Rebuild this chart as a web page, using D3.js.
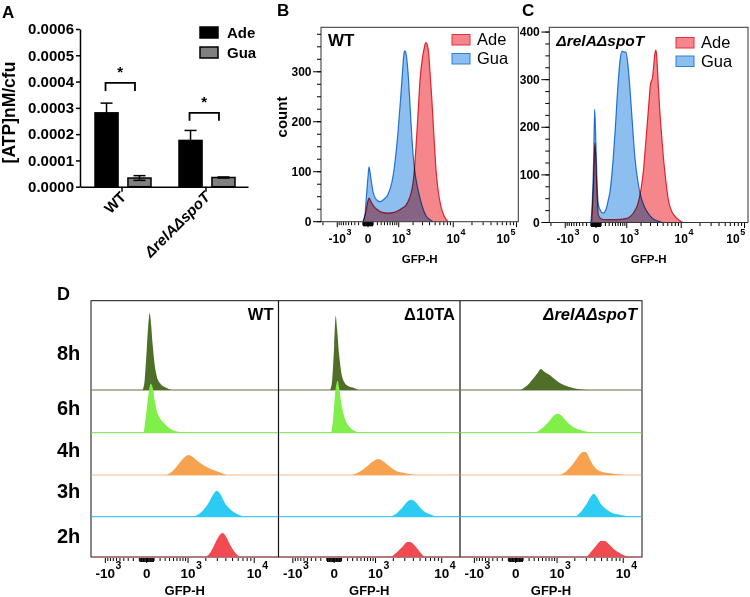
<!DOCTYPE html>
<html>
<head>
<meta charset="utf-8">
<script src="https://cdn.jsdelivr.net/npm/d3@7/dist/d3.min.js"></script>
<style>
html,body{margin:0;padding:0;background:#fff;}
svg text{font-family:"Liberation Sans",Arial,Helvetica,sans-serif;}
</style>
</head>
<body>
<svg id="fig" width="750" height="597"></svg>
<script>
// ======================= DATA =======================
// Panel A : ATP per cfu
const atpStrains = ["WT", "ΔrelAΔspoT"];
const atpGroups = ["Ade", "Gua"];
const atpAdeMean = [0.000281, 0.000176];
const atpAdeSD = [0.000037, 0.000038];
const atpGuaMean = [0.000033, 0.000035];
const atpGuaSD = [0.000009, 0.000002];
const atpSigLevel = [0.000395, 0.000281];
const atpSigLabel = ["*", "*"];
const atpTicks = [0, 0.0001, 0.0002, 0.0003, 0.0004, 0.0005, 0.0006];

// Panels B, C : GFP-H histograms, [GFP-H, count]
const flowTickValues = [-1000, 0, 1000, 10000, 100000];
const flowTickBase = ["-10", "0", "10", "10", "10"];
const flowTickExp = ["3", "", "3", "4", "5"];
const bCountTicks = [0, 100, 200, 300];
const cCountTicks = [0, 100, 200, 300, 400];

const bGua = [[-104,0],[-57,15],[-37,40],[0,90],[18,110],[57,85],[98,60],[165,45],[268,40],[385,45],[521,55],[678,80],[811,120],[960,180],[1125,258],[1215,300],[1280,328],[1341,342],[1408,340],[1480,330],[1586,300],[1741,235],[1907,165],[2085,115],[2276,85],[2590,55],[2940,32],[3468,12],[4077,4],[4595,0]];
const bAde = [[-91,0],[-37,20],[0,42],[18,47],[57,40],[120,30],[215,23],[354,18],[521,17],[721,18],[960,22],[1184,27],[1443,33],[1662,45],[1907,65],[2085,95],[2276,150],[2482,215],[2702,283],[3065,335],[3258,350],[3398,358],[3540,358],[3690,352],[3839,340],[4077,300],[4416,240],[4780,170],[5171,105],[5591,65],[6280,30],[7046,12],[8205,0]];
const cGua = [[-104,0],[-83,20],[-47,120],[-24,238],[0,160],[28,60],[57,32],[142,20],[215,28],[268,45],[324,65],[418,130],[485,188],[597,290],[678,340],[765,360],[859,358],[960,358],[1068,330],[1184,280],[1309,220],[1513,135],[1741,85],[1907,62],[2276,35],[2702,20],[3329,8],[4077,3],[4975,0]];
const cAde = [[-83,0],[-47,80],[-18,167],[9,90],[43,16],[98,8],[215,6],[521,6],[960,8],[1245,14],[1443,22],[1741,40],[1994,70],[2227,110],[2482,175],[2737,235],[3002,290],[3261,305],[3398,325],[3540,348],[3717,362],[3839,355],[3995,322],[4244,262],[4595,200],[5031,139],[5591,85],[6113,48],[7046,22],[7900,13],[9190,5],[10680,0]];

// Panel D : staggered GFP-H histograms over time, [GFP-H, count]
const dTickValues = [-1000, 0, 1000, 10000];
const dTickBase = ["-10", "0", "10", "10"];
const dTickExp = ["3", "", "3", "4"];
const dTimes = ["8h", "6h", "4h", "3h", "2h"];
const dStrains = ["WT", "Δ10TA", "ΔrelAΔspoT"];

const dWT8h = [[-52,0],[-25,10],[0,40],[25,70],[38,77],[52,70],[80,45],[110,25],[142,14],[211,6],[290,3],[379,1],[453,0]];
const dWT6h = [[-38,0],[-12,15],[25,40],[52,49],[80,45],[110,32],[142,22],[193,15],[270,10],[379,5],[534,2],[865,0]];
const dWT4h = [[333,0],[480,4],[655,11],[827,17],[1028,20],[1212,18],[1534,13],[1920,9],[2382,6],[3145,3],[4116,0]];
const dWT3h = [[1262,0],[1718,5],[2218,14],[2647,23],[2936,26],[3367,22],[3852,14],[4700,7],[5716,3],[7395,0]];
const dWT2h = [[1991,0],[2382,5],[2837,15],[3254,22],[3600,24],[3983,21],[4548,13],[5356,5],[6300,0]];

const dTA8h = [[-52,0],[-25,10],[0,45],[19,74],[38,60],[65,35],[95,18],[142,8],[211,4],[333,2],[428,0]];
const dTA6h = [[-38,0],[-12,15],[12,40],[45,52],[65,45],[95,30],[125,20],[175,11],[250,5],[333,2],[428,0]];
const dTA4h = [[290,0],[453,3],[655,8],[865,13],[1117,16],[1420,13],[1783,8],[2218,4],[2936,2],[4116,0]];
const dTA3h = [[1783,0],[2218,3],[2740,9],[3254,15],[3725,17],[4257,15],[5020,9],[6100,4],[7163,2],[8396,0]];
const dTA2h = [[1850,0],[2299,5],[2837,11],[3254,15],[3600,15],[4116,12],[4856,6],[5716,0]];

const dRS8h = [[65,0],[175,5],[290,12],[379,17],[453,21],[563,18],[721,15],[944,10],[1212,6],[1655,3],[2218,1],[3367,0]];
const dRS6h = [[333,0],[507,5],[687,11],[865,17],[1028,19],[1212,17],[1476,11],[1850,6],[2382,3],[3145,1],[3983,0]];
const dRS4h = [[1164,0],[1534,5],[1920,12],[2299,19],[2647,23],[2936,23],[3367,16],[3852,9],[4700,4],[6100,2],[7880,1],[10476,0]];
const dRS3h = [[2064,0],[2556,6],[3039,13],[3484,20],[3852,23],[4257,20],[4856,13],[5716,8],[6936,4],[8948,2],[12648,0]];
const dRS2h = [[3039,0],[3600,6],[4257,12],[4856,16],[5535,16],[6300,13],[7395,8],[8948,4],[10808,1],[12256,0]];

// ======================= STYLE / LAYOUT =======================
const ADE_FILL = "#f5878c", ADE_STROKE = "#e3303c";
const GUA_FILL = "#8cbef0", GUA_STROKE = "#2f80d8";
const dFill = ["#4f6f28", "#80ef4a", "#f7a24f", "#2ccbf3", "#f04b50"];
const dLine = ["#5d7340", "#8fe46e", "#f3b888", "#4cc6ee", "#ee6a6e"];

const svg = d3.select("#fig");
let clipCount = 0;

function txt(g, x, y, s, size, opts = {}) {
  return g.append("text").attr("x", x).attr("y", y)
    .attr("font-size", size)
    .attr("font-weight", opts.weight || "bold")
    .attr("font-style", opts.italic ? "italic" : null)
    .attr("text-anchor", opts.anchor || "start")
    .attr("fill", "#000")
    .text(s);
}

function logLabel(g, x, yBase, base, exp, fs, efs, raise) {
  const t = txt(g, x, yBase, base, fs, { anchor: "middle" });
  if (exp) {
    const w = t.node().getComputedTextLength();
    txt(g, x + w / 2 + 0.5, yBase - raise, exp, efs);
  }
}

function symlogScale(constant, zeroPx, k, lo, hi) {
  const t = v => Math.sign(v) * Math.log1p(Math.abs(v) / constant);
  return d3.scaleSymlog().constant(constant).domain([lo, hi])
    .range([zeroPx + k * t(lo), zeroPx + k * t(hi)]);
}

function xTicks(g, x, y0, left, right, majors, minors, fine, majLen, minLen) {
  const inside = v => { const p = x(v); return p >= left - 0.5 && p <= right + 0.5; };
  const draw = (vals, len) => g.selectAll(null).data(vals.filter(inside)).enter().append("line")
    .attr("x1", d => x(d)).attr("x2", d => x(d))
    .attr("y1", y0).attr("y2", y0 + len)
    .attr("stroke", "#000").attr("stroke-width", 1);
  draw(minors, minLen);
  draw(fine, majLen - 1);
  draw(majors, majLen);
}

// ======================= PANEL A =======================
(function () {
  const g = svg.append("g");
  txt(g, 2, 18, "A", 17);
  const yA = d3.scaleLinear().domain([0, 0.0006]).range([186.7, 29]);
  const xA = d3.scaleBand().domain(atpStrains).range([80, 248]);
  const xSub = d3.scaleBand().domain(atpGroups).range([-27, 29]).paddingInner(0.3);
  const means = [atpAdeMean, atpGuaMean], sds = [atpAdeSD, atpGuaSD];
  const fills = ["#000000", "#808080"];

  atpStrains.forEach((s, i) => {
    const cx = xA(s) + xA.bandwidth() / 2;
    const centers = [];
    atpGroups.forEach((grp, j) => {
      const x0 = cx + xSub(grp), bw = xSub.bandwidth();
      const m = means[j][i], sd = sds[j][i];
      g.append("rect").attr("x", x0).attr("y", yA(m)).attr("width", bw)
        .attr("height", yA(0) - yA(m)).attr("fill", fills[j])
        .attr("stroke", "#000").attr("stroke-width", 1.5);
      const bx = x0 + bw / 2; centers.push(bx);
      const eb = g.append("g").attr("stroke", "#000").attr("stroke-width", 1.5);
      eb.append("line").attr("x1", bx).attr("x2", bx).attr("y1", yA(m - sd)).attr("y2", yA(m + sd));
      eb.append("line").attr("x1", bx - 6).attr("x2", bx + 6).attr("y1", yA(m + sd)).attr("y2", yA(m + sd));
      eb.append("line").attr("x1", bx - 6).attr("x2", bx + 6).attr("y1", yA(m - sd)).attr("y2", yA(m - sd));
    });
    const yb = yA(atpSigLevel[i]);
    const x1 = centers[0] - 1, x2 = centers[1] - 4.5;
    g.append("path").attr("d", `M${x1},${yb + 8}V${yb}H${x2}V${yb + 8}`)
      .attr("fill", "none").attr("stroke", "#000").attr("stroke-width", 1.8);
    txt(g, (x1 + x2) / 2, yb - 6, atpSigLabel[i], 15, { anchor: "middle" });
  });

  const yAxis = d3.axisLeft(yA).tickValues(atpTicks).tickFormat(d3.format(".4f"))
    .tickSize(4).tickSizeOuter(0).tickPadding(2);
  g.append("g").attr("transform", "translate(80,0)").call(yAxis)
    .call(a => {
      a.selectAll("text").attr("font-size", 15).attr("font-weight", "bold").attr("fill", "#000");
      a.selectAll("line,path").attr("stroke", "#000").attr("stroke-width", 1.5);
    });
  const xAxis = d3.axisBottom(xA).tickSize(5).tickSizeOuter(0).tickFormat("");
  g.append("g").attr("transform", "translate(0,186.7)").call(xAxis)
    .call(a => a.selectAll("line,path").attr("stroke", "#000").attr("stroke-width", 1.5));

  atpStrains.forEach((s, i) => {
    const cx = xA(s) + xA.bandwidth() / 2;
    txt(g, 0, 0, s, 15, { anchor: "end", italic: i === 1 })
      .attr("transform", `translate(${cx + 5},${198}) rotate(-45)`);
  });

  g.append("text").attr("transform", "translate(15,112.5) rotate(-90)")
    .attr("text-anchor", "middle").attr("font-size", 17.5).attr("font-weight", "bold").text("[ATP]nM/cfu");

  atpGroups.forEach((grp, j) => {
    g.append("rect").attr("x", 200).attr("y", 27 + j * 20).attr("width", 18).attr("height", 11)
      .attr("fill", fills[j]).attr("stroke", "#000").attr("stroke-width", 1.5);
    txt(g, 227, 38 + j * 20, grp, 15);
  });
})();

// ======================= PANELS B, C =======================
function flowPanel(cfg) {
  const g = svg.append("g");
  txt(g, cfg.letterX, 16, cfg.letter, 17);
  const x = symlogScale(500, cfg.zero, 28, -1000, 100000);
  const y = d3.scaleLinear().domain([0, cfg.yMax]).range([cfg.bottom, cfg.top]);
  const id = "clip" + (clipCount++);
  g.append("clipPath").attr("id", id).append("rect")
    .attr("x", cfg.left).attr("y", cfg.top).attr("width", cfg.right - cfg.left).attr("height", cfg.bottom - cfg.top);
  const plot = g.append("g").attr("clip-path", `url(#${id})`).style("isolation", "isolate");
  const area = d3.area().x(d => x(d[0])).y0(y(0)).y1(d => y(d[1])).curve(d3.curveMonotoneX);
  const line = d3.line().x(d => x(d[0])).y(d => y(d[1])).curve(d3.curveMonotoneX);
  [[cfg.gua, GUA_FILL, GUA_STROKE], [cfg.ade, ADE_FILL, ADE_STROKE]].forEach(([dat, f, s]) => {
    plot.append("path").datum(dat).attr("d", area).attr("fill", f).style("mix-blend-mode", "multiply");
    plot.append("path").datum(dat).attr("d", line).attr("fill", "none").attr("stroke", s)
      .attr("stroke-width", 1.2).style("mix-blend-mode", "multiply");
  });
  g.append("rect").attr("x", cfg.left).attr("y", cfg.top).attr("width", cfg.right - cfg.left)
    .attr("height", cfg.bottom - cfg.top).attr("fill", "none").attr("stroke", "#333").attr("stroke-width", 1);

  const yMinor = d3.range(0, cfg.yMax, 25);
  g.selectAll(null).data(yMinor).enter().append("line")
    .attr("x1", cfg.left).attr("x2", cfg.left - 4)
    .attr("y1", d => y(d)).attr("y2", d => y(d)).attr("stroke", "#000");
  cfg.yTicks.forEach(v => {
    g.append("line").attr("x1", cfg.left).attr("x2", cfg.left - 8).attr("y1", y(v)).attr("y2", y(v)).attr("stroke", "#000");
    txt(g, cfg.left - 9.5, y(v) + 4, String(v), 12, { anchor: "end" });
  });
  const minors = [-2000, ...d3.range(-900, 0, 100), ...d3.range(100, 1000, 100),
    ...d3.range(2000, 10000, 1000), ...d3.range(20000, 100000, 10000)];
  const fine = d3.range(-90, 100, 10);
  xTicks(g, x, cfg.bottom + 0.5, cfg.left, cfg.right, flowTickValues, minors, fine, 5, 3);
  flowTickValues.forEach((v, i) => {
    const cx = Math.min(x(v), cfg.right - 15);
    logLabel(g, cx, 243, flowTickBase[i], flowTickExp[i], 12, 9, 8);
  });
  txt(g, (cfg.left + cfg.right) / 2, 263, "GFP-H", 11.5, { anchor: "middle" });
  if (cfg.yLabel) {
    g.append("text").attr("transform", `translate(${cfg.left - 34},117) rotate(-90)`)
      .attr("text-anchor", "middle").attr("font-size", 15).attr("font-weight", "bold").text(cfg.yLabel);
  }
  txt(g, cfg.left + 7, 46, cfg.title, cfg.titleSize, { italic: cfg.titleItalic });
  [["Ade", ADE_FILL, ADE_STROKE], ["Gua", GUA_FILL, GUA_STROKE]].forEach(([n, f, s], j) => {
    g.append("rect").attr("x", cfg.legX).attr("y", cfg.legY + j * cfg.legStep).attr("width", 18).attr("height", 10.5)
      .attr("fill", f).attr("stroke", s).attr("stroke-width", 1);
    txt(g, cfg.legX + 25, cfg.legY + 10.5 + j * cfg.legStep, n, 16.5, { weight: "normal" });
  });
}

flowPanel({ letter: "B", letterX: 277, left: 321, right: 518.3, top: 27.3, bottom: 221.7, zero: 368,
  yMax: 389, yTicks: bCountTicks, yLabel: "count", title: "WT", titleSize: 17, titleItalic: false,
  gua: bGua, ade: bAde, legX: 452, legY: 34.5, legStep: 19 });
flowPanel({ letter: "C", letterX: 522, left: 549.3, right: 748, top: 27.3, bottom: 222.5, zero: 596,
  yMax: 410, yTicks: cCountTicks, yLabel: null, title: "ΔrelAΔspoT", titleSize: 15.5, titleItalic: true,
  gua: cGua, ade: cAde, legX: 676, legY: 37.5, legStep: 18.5 });

// ======================= PANEL D =======================
(function () {
  const g = svg.append("g");
  txt(g, 57, 300, "D", 18);
  const lefts = [91, 278.5, 460], rights = [278.5, 460, 642];
  const top = 300.7, bottom = 557;
  const rowBase = [390, 432.7, 475, 516.7, 557];
  const rowLabelY = [360, 415, 457, 498, 543];
  const curves = [[dWT8h, dWT6h, dWT4h, dWT3h, dWT2h],
                  [dTA8h, dTA6h, dTA4h, dTA3h, dTA2h],
                  [dRS8h, dRS6h, dRS4h, dRS3h, dRS2h]];

  g.append("rect").attr("x", 91).attr("y", top).attr("width", 642 - 91).attr("height", bottom - top)
    .attr("fill", "none").attr("stroke", "#111").attr("stroke-width", 1);
  [278.5, 460].forEach(xx => g.append("line").attr("x1", xx).attr("x2", xx).attr("y1", top).attr("y2", bottom)
    .attr("stroke", "#111").attr("stroke-width", 1.2));

  dTimes.forEach((t, r) => txt(g, 57, rowLabelY[r], t, 20));

  dStrains.forEach((s, p) => {
    const L = lefts[p], R = rights[p];
    const x = symlogScale(400, L + 55.7, 33, -1000, 10000);
    const id = "clip" + (clipCount++);
    g.append("clipPath").attr("id", id).append("rect").attr("x", L + 0.5).attr("y", top + 0.5)
      .attr("width", R - L - 1).attr("height", bottom - top);
    const plot = g.append("g").attr("clip-path", `url(#${id})`);
    dTimes.forEach((t, r) => {
      const y = d3.scaleLinear().domain([0, 100]).range([rowBase[r], rowBase[r] - 100]);
      plot.append("line").attr("x1", L).attr("x2", R).attr("y1", rowBase[r]).attr("y2", rowBase[r])
        .attr("stroke", dLine[r]).attr("stroke-width", 1.2);
      const area = d3.area().x(d => x(d[0])).y0(y(0)).y1(d => y(d[1])).curve(d3.curveMonotoneX);
      plot.append("path").datum(curves[p][r]).attr("d", area).attr("fill", dFill[r]);
    });
    txt(g, R - 5, 320, s, 16.5, { anchor: "end", italic: p === 2 });

    const minors = [...d3.range(-900, 0, 100), ...d3.range(100, 1000, 100), ...d3.range(2000, 10000, 1000)];
    const fine = d3.range(-90, 100, 10);
    xTicks(g, x, bottom + 1, L, R, dTickValues, minors, fine, 5, 3);
    dTickValues.forEach((v, i) => logLabel(g, x(v), 578, dTickBase[i], dTickExp[i], 13.5, 10.5, 9));
    txt(g, (L + R) / 2, 595, "GFP-H", 13, { anchor: "middle" });
  });
})();
</script>
</body>
</html>
